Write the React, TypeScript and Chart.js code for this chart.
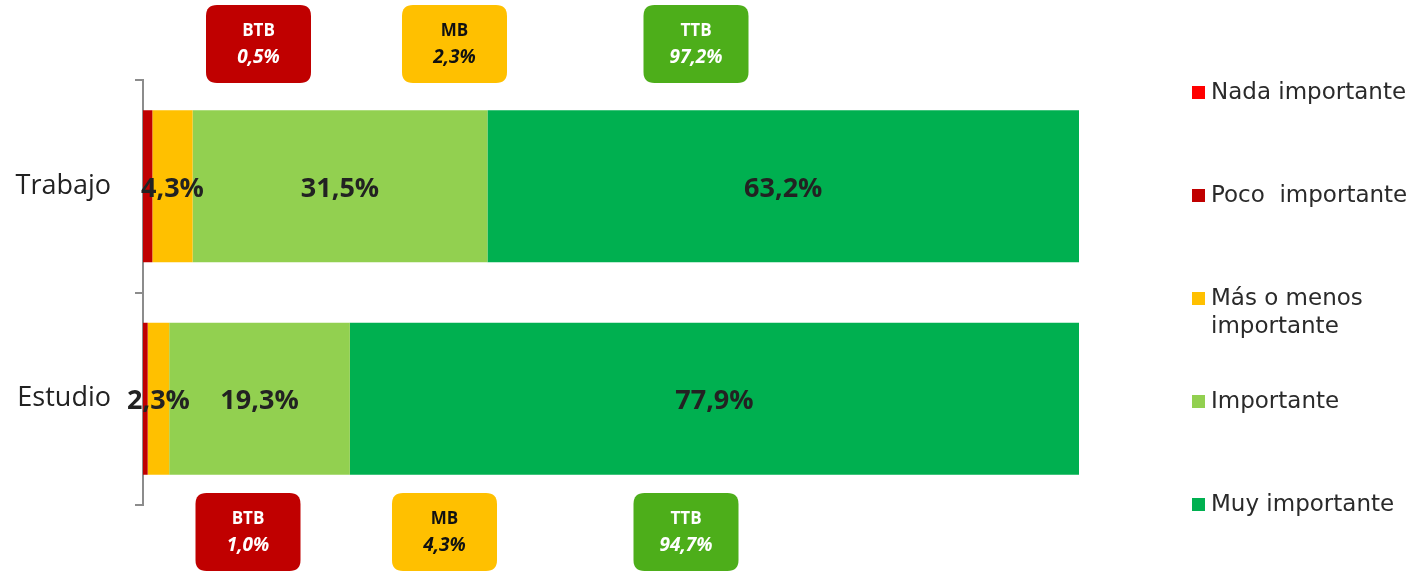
import React, { useEffect, useRef } from "react";
import { Chart, registerables } from "chart.js";

Chart.register(...registerables);

const categories = ["Trabajo", "Estudio"];
const seriesNames = ["Nada importante", "Poco  importante", "Más o menos importante", "Importante", "Muy importante"];
const legendLines = [["Nada importante"], ["Poco  importante"], ["Más o menos", "importante"], ["Importante"], ["Muy importante"]];
const seriesColors = ["#FF0000", "#C00000", "#FFC000", "#92D050", "#00B050"];
const nadaValues = [0, 0];
const pocoValues = [1.0, 0.5];
const masMenosValues = [4.3, 2.3];
const importanteValues = [31.5, 19.3];
const muyValues = [63.2, 77.9];
const seriesValues = [nadaValues, pocoValues, masMenosValues, importanteValues, muyValues];
const labelMin = 2;

const topBoxLabels = ["BTB", "MB", "TTB"];
const topBoxValues = ["0,5%", "2,3%", "97,2%"];
const bottomBoxLabels = ["BTB", "MB", "TTB"];
const bottomBoxValues = ["1,0%", "4,3%", "94,7%"];
const boxColors = ["#C00000", "#FFC000", "#4DAE1A"];
const boxTextColors = ["#FFFFFF", "#111111", "#FFFFFF"];

const fmt = (v: number) => v.toFixed(1).replace(".", ",") + "%";

function roundRect(ctx: CanvasRenderingContext2D, x: number, y: number, w: number, h: number, r: number) {
  ctx.beginPath();
  ctx.moveTo(x + r, y);
  ctx.lineTo(x + w - r, y);
  ctx.quadraticCurveTo(x + w, y, x + w, y + r);
  ctx.lineTo(x + w, y + h - r);
  ctx.quadraticCurveTo(x + w, y + h, x + w - r, y + h);
  ctx.lineTo(x + r, y + h);
  ctx.quadraticCurveTo(x, y + h, x, y + h - r);
  ctx.lineTo(x, y + r);
  ctx.quadraticCurveTo(x, y, x + r, y);
  ctx.closePath();
}

const overlayPlugin = {
  id: "overlay",
  afterDatasetsDraw(chart: any) {
    const ctx: CanvasRenderingContext2D = chart.ctx;
    const area = chart.chartArea;
    // data labels
    ctx.save();
    ctx.font = "bold 27px 'Open Sans', sans-serif";
    ctx.fillStyle = "#222222";
    ctx.textAlign = "center";
    ctx.textBaseline = "middle";
    chart.data.datasets.forEach((ds: any, di: number) => {
      const meta = chart.getDatasetMeta(di);
      meta.data.forEach((bar: any, i: number) => {
        const v = ds.data[i];
        if (v < labelMin) return;
        const cx = (bar.x + bar.base) / 2;
        ctx.fillText(fmt(v), cx, bar.y + 3);
      });
    });
    ctx.restore();

    // boxes
    const drawBoxes = (labels: string[], values: string[], offsets: number[], top: number) => {
      labels.forEach((lab, i) => {
        const w = 105, h = 78;
        const x = area.left + offsets[i] - w / 2;
        ctx.save();
        ctx.fillStyle = boxColors[i];
        roundRect(ctx, x, top, w, h, 11);
        ctx.fill();
        ctx.fillStyle = boxTextColors[i];
        ctx.textAlign = "center";
        ctx.textBaseline = "middle";
        ctx.font = "bold 17px 'Open Sans', sans-serif";
        ctx.fillText(lab, x + w / 2, top + 26);
        ctx.font = "italic bold 19px 'Open Sans', sans-serif";
        ctx.fillText(values[i], x + w / 2, top + 53);
        ctx.restore();
      });
    };
    drawBoxes(topBoxLabels, topBoxValues, [115.5, 311.5, 553], area.top - 75);
    drawBoxes(bottomBoxLabels, bottomBoxValues, [105, 301.5, 543], area.bottom - 12);

    // legend
    ctx.save();
    ctx.textBaseline = "middle";
    ctx.textAlign = "left";
    ctx.font = "23px 'DejaVu Sans', sans-serif";
    const legendX = area.right + 113;
    const legendTop = area.top + 12;
    const step = 103;
    legendLines.forEach((lines, i) => {
      const y = legendTop + i * step;
      ctx.fillStyle = seriesColors[i];
      ctx.fillRect(legendX, y - 6, 13, 13);
      ctx.fillStyle = "#2A2A2A";
      lines.forEach((t, li) => {
        ctx.fillText(t, legendX + 19, y + 1 + li * 28);
      });
    });
    ctx.restore();
  },
};

export default function App() {
  const ref = useRef<HTMLCanvasElement>(null);
  useEffect(() => {
    if (!ref.current) return;
    const chart = new Chart(ref.current, {
      type: "bar",
      data: {
        labels: categories,
        datasets: seriesNames.map((name, i) => ({
          label: name,
          data: seriesValues[i],
          backgroundColor: seriesColors[i],
          borderWidth: 0,
          categoryPercentage: 0.715,
          barPercentage: 1,
        })),
      },
      options: {
        indexAxis: "y",
        animation: false,
        responsive: false,
        maintainAspectRatio: false,
        layout: { padding: { top: 80, bottom: 66, right: 341, left: 0 } },
        plugins: { legend: { display: false }, tooltip: { enabled: false } },
        scales: {
          x: {
            stacked: true,
            min: 0,
            max: 100,
            display: false,
          },
          y: {
            stacked: true,
            afterFit: (s: any) => {
              s.width = 143;
            },
            border: { display: true, color: "#8C8C8C", width: 2 },
            grid: {
              display: true,
              drawOnChartArea: false,
              drawTicks: true,
              tickLength: 8,
              color: "#8C8C8C",
              lineWidth: 2,
              offset: true,
            },
            ticks: {
              color: "#222222",
              padding: 24,
              font: { family: "'Open Sans', sans-serif", size: 27 },
            },
          },
        },
      },
      plugins: [overlayPlugin],
    });
    return () => chart.destroy();
  }, []);
  return (
    <div style={{ position: "fixed", left: 0, top: 0, width: 1420, height: 571, background: "#fff" }}>
      <canvas ref={ref} width={1420} height={571} style={{ width: 1420, height: 571 }} />
    </div>
  );
}
